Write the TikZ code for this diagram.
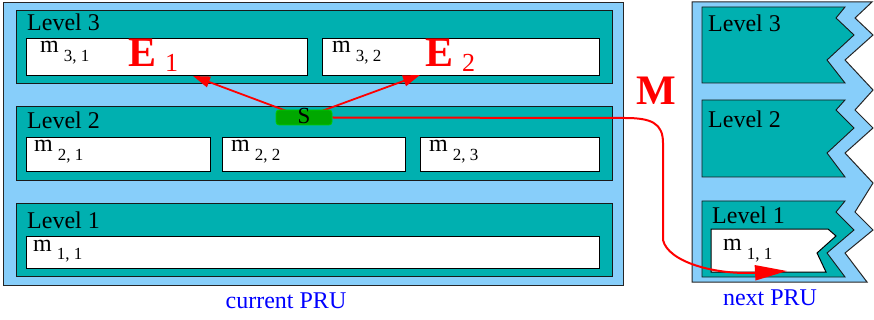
\documentclass[tikz,border=0pt]{standalone}
\usepackage{fontspec}
\setmainfont{Liberation Serif}
\usetikzlibrary{arrows.meta}

\definecolor{prublue}{RGB}{135,206,250}
\definecolor{levelteal}{RGB}{0,176,176}
\definecolor{sfill}{RGB}{0,168,0}
\definecolor{sedge}{RGB}{0,205,0}

\pgfdeclarelayer{boxes}
\pgfdeclarelayer{links}
\pgfsetlayers{boxes,links,main}

% memory label: m followed by a lowered index
\newcommand{\mlab}[1]{m\hspace{5pt}\raisebox{-9pt}{\fontsize{17}{20}\selectfont #1}}
% edge/message label: bold letter with a lowered index
\newcommand{\elab}[2]{{\fontsize{42}{46}\selectfont\bfseries #1}\hspace{9pt}\raisebox{-5pt}{\fontsize{26}{30}\selectfont #2}}

\tikzset{
  prubox/.style={draw=black!85, fill=prublue, line width=0.9pt},
  levelbox/.style={draw=black!90, fill=levelteal, line width=0.9pt},
  membox/.style={draw=black, fill=white, line width=1pt},
  rect/.style={rectangle, inner sep=0pt, outer sep=0pt, anchor=north west},
  lbl/.style={inner sep=0pt, anchor=base west, font=\fontsize{24}{28}\selectfont},
  caption/.style={inner sep=0pt, anchor=base, text=blue, font=\fontsize{24}{28}\selectfont},
  earrow/.style={draw=red, line width=1.8pt, -{Triangle[length=17pt,width=11pt]}},
  marrow/.style={draw=red, line width=2pt, -{Triangle[length=32pt,width=15pt]}},
  sbox/.style={rectangle, rounded corners=3pt, draw=sedge, fill=sfill, line width=0.8pt,
    minimum width=56pt, minimum height=15pt, inner sep=0pt},
}

\begin{document}
\begin{tikzpicture}[x=1pt, y=-1pt]
\useasboundingbox (0,0) rectangle (874,320);

\begin{pgfonlayer}{boxes}
  % current PRU
  \node[rect, prubox, minimum width=620pt, minimum height=283pt] (cur) at (3,2) {};
  \node[rect, levelbox, minimum width=596pt, minimum height=73pt] (L3) at (16,10) {};
  \node[rect, levelbox, minimum width=596pt, minimum height=74pt] (L2) at (16,106) {};
  \node[rect, levelbox, minimum width=596pt, minimum height=73pt] (L1) at (16,203) {};
  \node[rect, membox, minimum width=281pt, minimum height=37pt] (m31) at (26,39) {};
  \node[rect, membox, minimum width=277pt, minimum height=37pt] (m32) at (322,39) {};
  \node[rect, membox, minimum width=184pt, minimum height=34pt] (m21) at (26,138) {};
  \node[rect, membox, minimum width=183pt, minimum height=34pt] (m22) at (222,138) {};
  \node[rect, membox, minimum width=179pt, minimum height=34pt] (m23) at (420,138) {};
  \node[rect, membox, minimum width=573pt, minimum height=32pt] (m11) at (26,236) {};

  % next PRU, torn off on its right side
  \draw[prubox, line width=1pt] (692,2) -- (872,2) -- (855,18) -- (873,35) -- (845,60)
    -- (873,90) -- (855,110) -- (873,128) -- (845,153) -- (873,183) -- (855,212)
    -- (873,230) -- (845,253) -- (867,282) -- (692,282) -- cycle;
  \draw[levelbox] (702,7) -- (845,7) -- (836,18) -- (854,35) -- (827,60) -- (845,83)
    -- (702,83) -- cycle;
  \draw[levelbox] (702,100) -- (845,100) -- (836,110) -- (854,128) -- (827,153)
    -- (845,177) -- (702,177) -- cycle;
  \draw[levelbox] (702,201) -- (845,201) -- (836,212) -- (854,230) -- (827,253)
    -- (845,277) -- (702,277) -- cycle;
  \draw[membox] (711,229) -- (828,229) -- (836,236) -- (817,253) -- (826,272)
    -- (711,272) -- cycle;
\end{pgfonlayer}

% level and memory labels, current PRU
\node[lbl] (t3) at (27,31) {Level 3};
\node[lbl] (t2) at (27,129) {Level 2};
\node[lbl] (t1) at (27,228) {Level 1};
\node[lbl] (lm31) at (40,53) {\mlab{3, 1}};
\node[lbl] (lm32) at (332,53) {\mlab{3, 2}};
\node[lbl] (lm21) at (34,152) {\mlab{2, 1}};
\node[lbl] (lm22) at (231,152) {\mlab{2, 2}};
\node[lbl] (lm23) at (429,152) {\mlab{2, 3}};
\node[lbl] (lm11) at (33,251) {\mlab{1, 1}};

% labels, next PRU
\node[lbl] (n3) at (708,32) {Level 3};
\node[lbl] (n2) at (708,128) {Level 2};
\node[lbl] (n1) at (712,223) {Level 1};
\node[lbl] (nm11) at (723,250) {\mlab{1, 1}};

% source element
\node[sbox] (S) at (304,117.5) {};
\node[inner sep=0pt, anchor=base, font=\fontsize{23}{26}\selectfont] (Stext) at (304,124) {S};

% edge and message labels
\node[inner sep=0pt, anchor=base west, text=red] (E1) at (128,67) {\elab{E}{1}};
\node[inner sep=0pt, anchor=base west, text=red] (E2) at (425,67) {\elab{E}{2}};
\node[inner sep=0pt, anchor=base west, text=red, font=\fontsize{42}{46}\selectfont\bfseries] (M) at (636,105) {M};

% captions
\node[caption] (cap1) at (286,308) {current PRU};
\node[caption] (cap2) at (770,305) {next PRU};

% connectors
\coordinate (e1tip) at (193,76);
\coordinate (e2tip) at (420,75);
\coordinate (mend) at (787,271);
\begin{pgfonlayer}{links}
  \draw[earrow] (S.center) -- (e1tip);
  \draw[earrow] (S.center) -- (e2tip);
  \draw[marrow] (S.east) -- (625,118) .. controls (651,118) and (663,123) .. (663,143)
    -- (663,240) .. controls (668,262) and (715,275) .. (mend);
\end{pgfonlayer}
\end{tikzpicture}
\end{document}
